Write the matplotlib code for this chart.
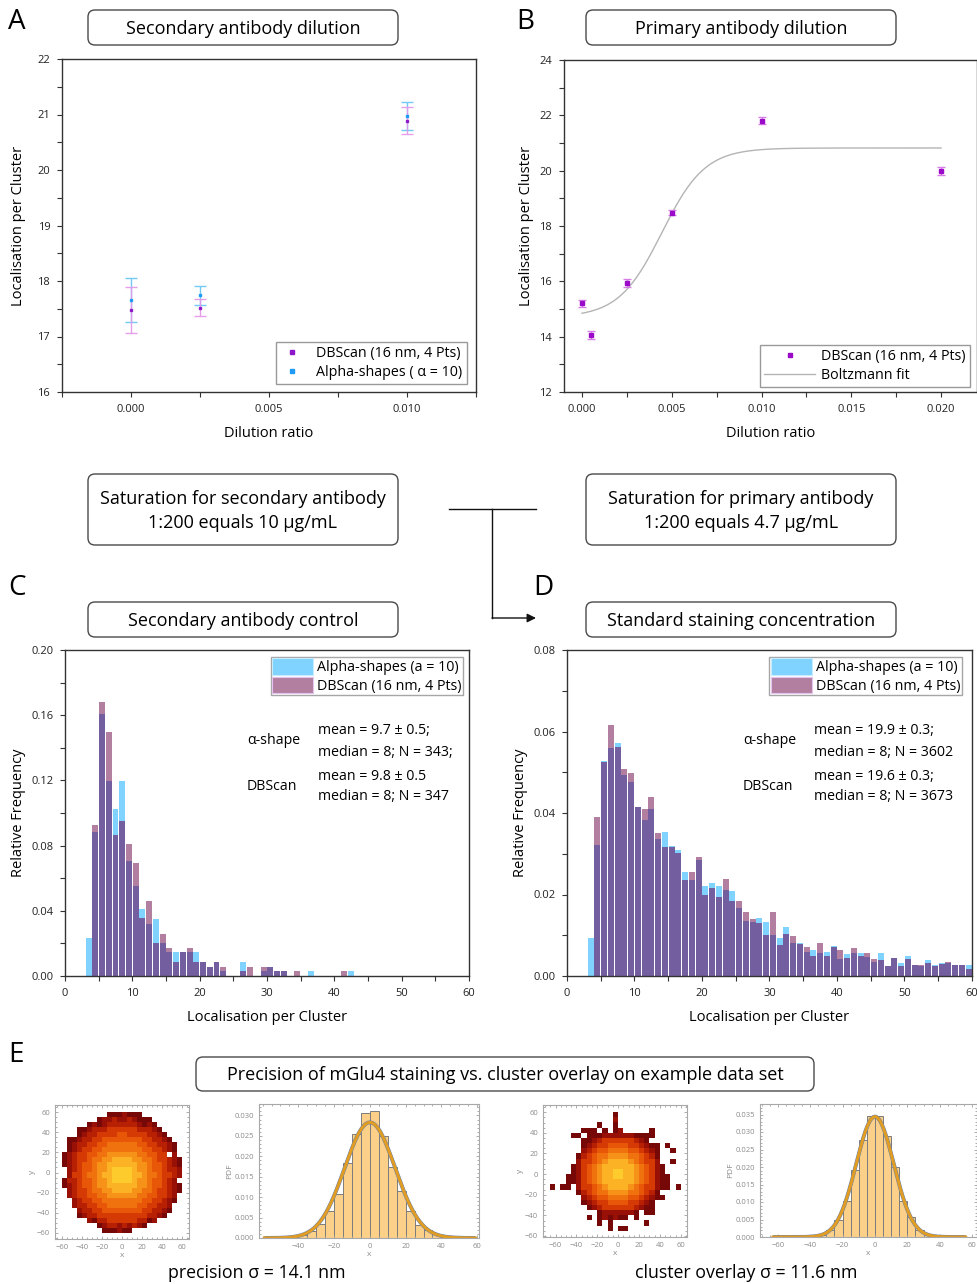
import numpy as np
import matplotlib
matplotlib.use('Agg')
import matplotlib.pyplot as plt
from matplotlib.patches import FancyBboxPatch, Patch
from matplotlib.lines import Line2D
from matplotlib.colors import ListedColormap
from matplotlib.ticker import MultipleLocator, FixedLocator, FormatStrFormatter

plt.rcParams['font.family'] = ['Open Sans', 'DejaVu Sans']
W, H = 978, 1284

# ---- A: secondary antibody dilution
dil_sec = [0.0, 0.0025, 0.010]
dbscan_sec = [17.48, 17.52, 20.89]
dbscan_sec_err = [0.41, 0.15, 0.245]
alpha_sec = [17.66, 17.74, 20.97]
alpha_sec_err = [0.40, 0.17, 0.25]

# ---- B: primary antibody dilution + Boltzmann fit parameters
dil_prim = [0.0, 0.0005, 0.0025, 0.005, 0.010, 0.020]
dbscan_prim = [15.20, 14.05, 15.93, 18.48, 21.80, 19.98]
dbscan_prim_err = [0.12, 0.15, 0.15, 0.10, 0.13, 0.15]
boltz_A1, boltz_A2, boltz_x0, boltz_dx = 14.70, 20.82, 0.00445, 0.0012

# ---- C: secondary antibody control (relative frequency, bins 3..42)
sec_bins = list(range(3, 43))
sec_alpha = [0.0236, 0.0881, 0.1610, 0.1199, 0.1023, 0.1199, 0.0703, 0.0555, 0.0412, 0.0322,
             0.0350, 0.0203, 0.0145, 0.0145, 0.0145, 0.0145, 0.0145, 0.0088, 0.0057, 0.0088,
             0.0029, 0, 0, 0.0088, 0, 0, 0.0029, 0.0058, 0.0029, 0.0029,
             0, 0, 0, 0.0029, 0, 0, 0, 0, 0, 0.0029]
sec_db = [0, 0.0924, 0.1678, 0.1500, 0.0867, 0.0953, 0.0809, 0.0695, 0.0355, 0.0461,
          0.0203, 0.0260, 0.0174, 0.0088, 0.0145, 0.0174, 0.0088, 0.0088, 0.0057, 0.0088,
          0.0057, 0, 0, 0.0029, 0.0057, 0, 0.0057, 0.0058, 0.0029, 0.0029,
          0, 0.0029, 0, 0, 0, 0, 0, 0, 0.0029, 0]

# ---- D: standard staining (bins 3..59)
std_bins = list(range(3, 60))
std_alpha = [0.0093, 0.0322, 0.0528, 0.0560, 0.0573, 0.0493, 0.0477, 0.0415, 0.0384, 0.0409,
             0.0335, 0.0353, 0.0319, 0.0309, 0.0256, 0.0236, 0.0285, 0.0220, 0.0229, 0.0220,
             0.0211, 0.0209, 0.0166, 0.0134, 0.0132, 0.0143, 0.0133, 0.0101, 0.0094, 0.0120,
             0.0082, 0.0081, 0.0060, 0.0065, 0.0056, 0.0059, 0.0073, 0.0041, 0.0054, 0.0057,
             0.0057, 0.0047, 0.0035, 0.0056, 0.0025, 0.0043, 0.0031, 0.0048, 0.0027, 0.0025,
             0.0039, 0.0028, 0.0031, 0.0033, 0.0027, 0.0027, 0.0027]
std_db = [0, 0.0391, 0.0524, 0.0617, 0.0562, 0.0508, 0.0497, 0.0415, 0.0409, 0.0439,
          0.0352, 0.0316, 0.0317, 0.0301, 0.0236, 0.0254, 0.0293, 0.0199, 0.0216, 0.0194,
          0.0239, 0.0183, 0.0183, 0.0158, 0.0139, 0.0129, 0.0101, 0.0157, 0.0076, 0.0104,
          0.0099, 0.0078, 0.0071, 0.0048, 0.0080, 0.0050, 0.0070, 0.0063, 0.0043, 0.0068,
          0.0048, 0.0057, 0.0041, 0.0039, 0.0025, 0.0043, 0.0025, 0.0042, 0.0027, 0.0027,
          0.0033, 0.0025, 0.0029, 0.0035, 0.0027, 0.0027, 0.0016]

# ---- E: 2D localisation maps (intensity level per 5 nm cell, 0 = empty)
prec_map = [
    "000000000111211100000000",
    "000000012232232111000000",
    "000001212333333212100000",
    "000112333444444333210000",
    "000123344445544443321000",
    "011233445555555544332100",
    "012334455666666554433210",
    "012344556666666655443210",
    "123445566777777665544020",
    "123445667788887766544321",
    "123455677888888776554321",
    "023455677899998776554332",
    "024456678899998876654432",
    "133455677899998776554320",
    "123455677888888776554321",
    "023445667788887766544321",
    "023445566777777665544320",
    "002344556666666655443210",
    "002334455666666554433200",
    "000233445555555544332100",
    "000123344444444443321000",
    "000002133444444331200000",
    "000000012332323210000000",
    "000000001112110000000000",
]
overlay_map = [
    "00000000000000000000000000",
    "00000000000010000000000000",
    "00000000000020000000000000",
    "00000000010010000000000000",
    "00000011101012000001000000",
    "00001101112222221111000000",
    "00000011234444443210000000",
    "00000012344555544321101000",
    "00000023455666655432100100",
    "00000134566777766543100000",
    "00000244567888876544200100",
    "00001245678888887654210000",
    "00001245678899887654210000",
    "00011245678899887654211000",
    "00011245678888887654211000",
    "10110244567888876544211010",
    "00000134566777766543100000",
    "00000023455666655432110000",
    "00000012344555544321000000",
    "00000001234444443211000000",
    "00000000012222221011000000",
    "00000001012121101000000000",
    "00000000010100000010000000",
    "00000000000101100000000000",
    "00000000000000000000000000",
    "00000000000000000000000000",
]
# 1D projections (PDF, 5 nm bins)
prec_edges = list(range(-45, 50, 5))
prec_pdf = [0.0004, 0.0008, 0.0016, 0.0034, 0.0066, 0.0107, 0.0183, 0.0254, 0.0307,
            0.0311, 0.0249, 0.0173, 0.0115, 0.0065, 0.0033, 0.0020, 0.0010, 0.0004]
prec_sigma = 14.1
ovl_edges = list(range(-35, 40, 5))
ovl_pdf = [0.0005, 0.0019, 0.0048, 0.0103, 0.0191, 0.0277, 0.0345,
           0.0345, 0.0289, 0.0200, 0.0103, 0.0056, 0.0021, 0.0006]
ovl_sigma = 11.6

C_ALPHA = '#80d2ff'
C_DB = '#b37fa0'
C_OVER = '#735f9f'

fig = plt.figure(figsize=(W / 100, H / 100), dpi=100)
ov = fig.add_axes([0, 0, 1, 1])
ov.set_xlim(0, W)
ov.set_ylim(H, 0)
ov.axis('off')


def px_axes(l, t, r, b):
    return fig.add_axes([l / W, 1 - b / H, (r - l) / W, (b - t) / H])


def px_text(x, y, s, **kw):
    # figure-level text, drawn above the axes
    fig.text(x / W, 1 - y / H, s, **kw)


def title_box(l, t, r, b, text, **kw):
    ov.add_patch(FancyBboxPatch((l, t), r - l, b - t, boxstyle='round,pad=0,rounding_size=7',
                                fc='white', ec='#4a4a4a', lw=1))
    ov.text((l + r) / 2, (t + b) / 2 + 1.5, text, ha='center', va='center', fontsize=13, **kw)


def style_main(ax):
    for s in ax.spines.values():
        s.set_color('#333333')
        s.set_linewidth(1)
    ax.tick_params(which='both', direction='out', length=3.5, width=0.8, labelsize=8,
                   colors='#333333', top=False, right=False, pad=5)
    ax.tick_params(which='both', labelcolor='#222222')


# panel letters and headline boxes
for lab, x, y in [('A', 8, 22), ('B', 516, 22), ('C', 8, 588), ('D', 533, 588), ('E', 8, 1055)]:
    ov.text(x, y, lab, fontsize=20, va='center', ha='left')
title_box(88, 10, 398, 45, 'Secondary antibody dilution')
title_box(586, 10, 896, 45, 'Primary antibody dilution')
title_box(88, 474, 398, 545, 'Saturation for secondary antibody\n1:200 equals 10 µg/mL', linespacing=1.4)
title_box(586, 474, 896, 545, 'Saturation for primary antibody\n1:200 equals 4.7 µg/mL', linespacing=1.4)
title_box(88, 602, 398, 637, 'Secondary antibody control')
title_box(586, 602, 896, 637, 'Standard staining concentration')
title_box(196, 1057, 814, 1091, 'Precision of mGlu4 staining vs. cluster overlay on example data set')

# connector
ov.plot([449, 536], [509, 509], color='#111111', lw=1)
ov.plot([492, 492], [509, 618], color='#111111', lw=1)
ov.annotate('', xy=(536, 618), xytext=(492, 618),
            arrowprops=dict(arrowstyle='-|>', color='#111111', lw=1, mutation_scale=13,
                            shrinkA=0, shrinkB=0))

# ---------------- A
axA = px_axes(62, 59, 476, 392)
axA.errorbar(dil_sec, alpha_sec, yerr=alpha_sec_err, fmt='s', ms=2.0, color='#1e9bf5',
             ecolor='#72c9f6', elinewidth=1, capsize=4, capthick=1)
axA.errorbar(dil_sec, dbscan_sec, yerr=dbscan_sec_err, fmt='s', ms=2.0, color='#8b16c8',
             ecolor='#e49ae8', elinewidth=1, capsize=4, capthick=1, alpha=0.95)
axA.set_xlim(-0.0025, 0.0125)
axA.set_ylim(16, 22)
axA.xaxis.set_major_locator(FixedLocator([0.0, 0.005, 0.010]))
axA.set_xticklabels(['0.000', '0.005', '0.010'])
axA.xaxis.set_minor_locator(MultipleLocator(0.0025))
axA.yaxis.set_major_locator(MultipleLocator(1))
axA.yaxis.set_minor_locator(MultipleLocator(0.5))
axA.set_xlabel('Dilution ratio', fontsize=10.5, labelpad=8)
axA.set_ylabel('Localisation per Cluster', fontsize=10.5, labelpad=8)
style_main(axA)
hA = [Line2D([], [], ls='none', marker='s', ms=2.5, color='#8b16c8'),
      Line2D([], [], ls='none', marker='s', ms=2.5, color='#1e9bf5')]
lg = axA.legend(hA, ['DBScan (16 nm, 4 Pts)', 'Alpha-shapes ( α = 10)'], loc='lower right',
                bbox_to_anchor=(0.978, 0.024), borderaxespad=0, fontsize=10.3, fancybox=False,
                edgecolor='#808080', handlelength=1.6, handletextpad=0.9, labelspacing=0.25,
                borderpad=0.3)
lg.get_frame().set_linewidth(1)

# ---------------- B
axB = px_axes(564, 60, 977, 392)
xfit = np.linspace(0, 0.020, 300)
yfit = boltz_A2 + (boltz_A1 - boltz_A2) / (1 + np.exp((xfit - boltz_x0) / boltz_dx))
axB.plot(xfit, yfit, color='#b4b4b4', lw=1)
axB.errorbar(dil_prim, dbscan_prim, yerr=dbscan_prim_err, fmt='s', ms=3.5, color='#9a0ac8',
             ecolor='#d77ee6', elinewidth=1, capsize=3, capthick=1)
axB.set_xlim(-0.001, 0.022)
axB.set_ylim(12, 24)
axB.xaxis.set_major_locator(FixedLocator([0.0, 0.005, 0.010, 0.015, 0.020]))
axB.set_xticklabels(['0.000', '0.005', '0.010', '0.015', '0.020'])
axB.xaxis.set_minor_locator(MultipleLocator(0.0025))
axB.yaxis.set_major_locator(MultipleLocator(2))
axB.yaxis.set_minor_locator(MultipleLocator(1))
axB.set_xlabel('Dilution ratio', fontsize=10.5, labelpad=8)
axB.set_ylabel('Localisation per Cluster', fontsize=10.5)
style_main(axB)
hB = [Line2D([], [], ls='none', marker='s', ms=3.5, color='#9a0ac8'),
      Line2D([], [], color='#b4b4b4', lw=1)]
lg = axB.legend(hB, ['DBScan (16 nm, 4 Pts)', 'Boltzmann fit'], loc='lower right',
                bbox_to_anchor=(0.983, 0.015), borderaxespad=0, fontsize=10.3, fancybox=False,
                edgecolor='#808080', handlelength=3.6, handletextpad=0.4, labelspacing=0.25,
                borderpad=0.3)
lg.get_frame().set_linewidth(1)


# ---------------- C, D
def overlap_hist(ax, bins, a, d):
    a = np.asarray(a)
    d = np.asarray(d)
    x = np.asarray(bins) + 0.5
    lo = np.minimum(a, d)
    ax.bar(x, lo, width=0.88, color=C_OVER, lw=0)
    ax.bar(x, a - lo, bottom=lo, width=0.88, color=C_ALPHA, lw=0)
    ax.bar(x, d - lo, bottom=lo, width=0.88, color=C_DB, lw=0)


def hist_panel(box, bins, a, d, ytop, ystep, legend_anchor, notes):
    ax = px_axes(*box)
    overlap_hist(ax, bins, a, d)
    ax.set_xlim(0, 60)
    ax.set_ylim(0, ytop)
    ax.xaxis.set_major_locator(MultipleLocator(10))
    ax.xaxis.set_minor_locator(MultipleLocator(5))
    ax.yaxis.set_major_locator(MultipleLocator(ystep))
    ax.yaxis.set_minor_locator(MultipleLocator(ystep / 2))
    ax.yaxis.set_major_formatter(FormatStrFormatter('%.2f'))
    ax.set_xlabel('Localisation per Cluster', fontsize=10.5, labelpad=8)
    ax.set_ylabel('Relative Frequency', fontsize=10.5)
    style_main(ax)
    hh = [Patch(fc=C_ALPHA, ec='#c8ecff', lw=0.8), Patch(fc=C_DB, ec='#e4c4f0', lw=0.8)]
    lg = ax.legend(hh, ['Alpha-shapes (a = 10)', 'DBScan (16 nm, 4 Pts)'], loc='upper right',
                   bbox_to_anchor=legend_anchor, borderaxespad=0, fontsize=10.3, fancybox=False,
                   edgecolor='#909090', handlelength=2.9, handleheight=1.4, handletextpad=0.25,
                   labelspacing=0.1, borderpad=0.1)
    lg.get_frame().set_linewidth(1)
    for txt, x, y in notes:
        px_text(x, y, txt, fontsize=10.2, va='center', ha='left')
    return ax


hist_panel((65, 650, 469, 976), sec_bins, sec_alpha, sec_db, 0.20, 0.04, (0.985, 0.979),
           [('α-shape', 247, 741), ('mean = 9.7 ± 0.5;', 318, 731), ('median = 8; N = 343;', 318, 753),
            ('DBScan', 247, 787), ('mean = 9.8 ± 0.5', 318, 776), ('median = 8; N = 347', 318, 797)])
hist_panel((567, 650, 972, 976), std_bins, std_alpha, std_db, 0.08, 0.02, (0.975, 0.979),
           [('α-shape', 743, 741), ('mean = 19.9 ± 0.3;', 814, 731), ('median = 8; N = 3602', 814, 753),
            ('DBScan', 743, 787), ('mean = 19.6 ± 0.3;', 814, 776), ('median = 8; N = 3673', 814, 797)])

# ---------------- E
heat_cmap = ListedColormap(['#760808', '#981006', '#b82004', '#d63a04', '#e85608',
                            '#f0720e', '#f69218', '#fbb224', '#fdcb2c'])


def style_small(ax):
    for s in ax.spines.values():
        s.set_color('#a8a8a8')
        s.set_linewidth(0.8)
    ax.tick_params(which='both', direction='in', top=True, right=True, labelsize=5.5,
                   colors='#a0a0a0', labelcolor='#8c8c8c', width=0.6)
    ax.tick_params(which='major', length=2.5)
    ax.tick_params(which='minor', length=1.5)


def heat_panel(box, rows, extent, xlim, ylim):
    ax = px_axes(*box)
    grid = np.array([[int(ch) for ch in r] for r in rows], dtype=float)
    grid = np.ma.masked_equal(grid, 0)
    ax.imshow(grid, cmap=heat_cmap, vmin=0.5, vmax=9.5, extent=extent, origin='upper',
              aspect='auto', interpolation='nearest')
    ax.set_xlim(*xlim)
    ax.set_ylim(*ylim)
    ax.xaxis.set_major_locator(MultipleLocator(20))
    ax.yaxis.set_major_locator(MultipleLocator(20))
    ax.xaxis.set_minor_locator(MultipleLocator(5))
    ax.yaxis.set_minor_locator(MultipleLocator(5))
    ax.set_xlabel('x', fontsize=6, color='#8c8c8c', labelpad=1)
    ax.set_ylabel('y', fontsize=6, color='#8c8c8c', labelpad=1)
    style_small(ax)


def pdf_panel(box, edges, pdf, sigma, xlim, ylim, xr, xticks):
    ax = px_axes(*box)
    ax.bar(edges[:-1], pdf, width=5, align='edge', color='#fdd089', edgecolor='#7c7c7c', lw=0.7)
    xs = np.linspace(xr[0], xr[1], 400)
    g = np.exp(-xs ** 2 / (2 * sigma ** 2)) / (sigma * np.sqrt(2 * np.pi))
    ax.plot(xs, g, color='#5e81b5', lw=2.8, solid_capstyle='butt')
    ax.plot(xs, g, color='#e19c24', lw=2.2)
    ax.set_xlim(*xlim)
    ax.set_ylim(*ylim)
    ax.xaxis.set_major_locator(FixedLocator(xticks))
    ax.xaxis.set_minor_locator(MultipleLocator(5))
    ax.yaxis.set_major_locator(MultipleLocator(0.005))
    ax.yaxis.set_minor_locator(MultipleLocator(0.001))
    ax.yaxis.set_major_formatter(FormatStrFormatter('%.3f'))
    ax.set_xlabel('x', fontsize=6, color='#8c8c8c', labelpad=1)
    ax.set_ylabel('PDF', fontsize=6, color='#8c8c8c', labelpad=1)
    style_small(ax)
    return ax


heat_panel((55, 1105, 189, 1239), prec_map, [-60, 60, -60, 60], (-67, 67), (-66, 67))
pdf_panel((259, 1104, 479, 1238), prec_edges, prec_pdf, prec_sigma, (-62, 61), (0, 0.0328),
          (-59, 59), [-40, -20, 0, 20, 40, 60])
heat_panel((543, 1105, 687, 1237), overlay_map, [-65, 65, -65, 65], (-72, 66), (-61, 67))
pdf_panel((760, 1104, 977, 1237), ovl_edges, ovl_pdf, ovl_sigma, (-71, 63), (0, 0.038),
          (-63, 56), [-60, -40, -20, 0, 20, 40, 60])

ov.text(257, 1273, 'precision σ = 14.1 nm', fontsize=12.8, ha='center', va='center')
ov.text(746, 1273, 'cluster overlay σ = 11.6 nm', fontsize=12.8, ha='center', va='center')

fig.savefig('out.png', dpi=100)
